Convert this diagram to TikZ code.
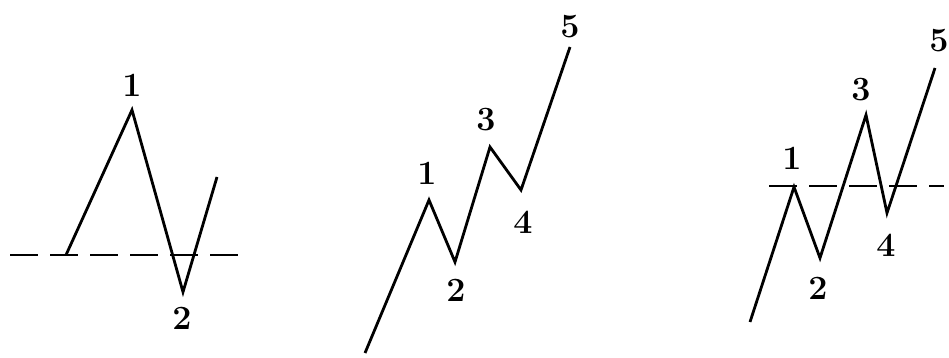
\documentclass[tikz,border=0pt]{standalone}
\begin{document}
\begin{tikzpicture}[x=1pt,y=-1pt,
  wave/.style={line width=2.8pt, line join=miter, line cap=butt},
  level/.style={line width=2.8pt, dash pattern=on 28pt off 12pt},
  lbl/.style={font=\fontsize{34}{38}\selectfont\bfseries, inner sep=0pt}]
\useasboundingbox (0,0) rectangle (949,358);
% Panel 1
\coordinate (a0) at (66,255);
\coordinate (a1) at (132,110);
\coordinate (a2) at (183,292);
\coordinate (a3) at (217,177);
\coordinate (al) at (10,255);
\coordinate (ar) at (238,255);
\draw[level] (al) -- (ar);
\draw[wave] (a0) -- (a1) -- (a2) -- (a3);
\node[lbl] (la1) at (132,85) {1};
\node[lbl] (la2) at (182,318) {2};
% Panel 2
\coordinate (b0) at (365,353);
\coordinate (b1) at (429,200);
\coordinate (b2) at (455,262);
\coordinate (b3) at (490,147);
\coordinate (b4) at (521,190);
\coordinate (b5) at (570,47);
\draw[wave] (b0) -- (b1) -- (b2) -- (b3) -- (b4) -- (b5);
\node[lbl] (lb1) at (427,173) {1};
\node[lbl] (lb2) at (456,290) {2};
\node[lbl] (lb3) at (486,120) {3};
\node[lbl] (lb4) at (523,222) {4};
\node[lbl] (lb5) at (570,27) {5};
% Panel 3
\coordinate (c0) at (750,322);
\coordinate (c1) at (794,187);
\coordinate (c2) at (820,258);
\coordinate (c3) at (866,115);
\coordinate (c4) at (887,213);
\coordinate (c5) at (935,68);
\coordinate (cl) at (769,186);
\coordinate (cr) at (944,186);
\draw[level] (cl) -- (cr);
\draw[wave] (c0) -- (c1) -- (c2) -- (c3) -- (c4) -- (c5);
\node[lbl] (lc1) at (792,158) {1};
\node[lbl] (lc2) at (818,288) {2};
\node[lbl] (lc3) at (861,90) {3};
\node[lbl] (lc4) at (886,245) {4};
\node[lbl] (lc5) at (939,41) {5};
\end{tikzpicture}
\end{document}
